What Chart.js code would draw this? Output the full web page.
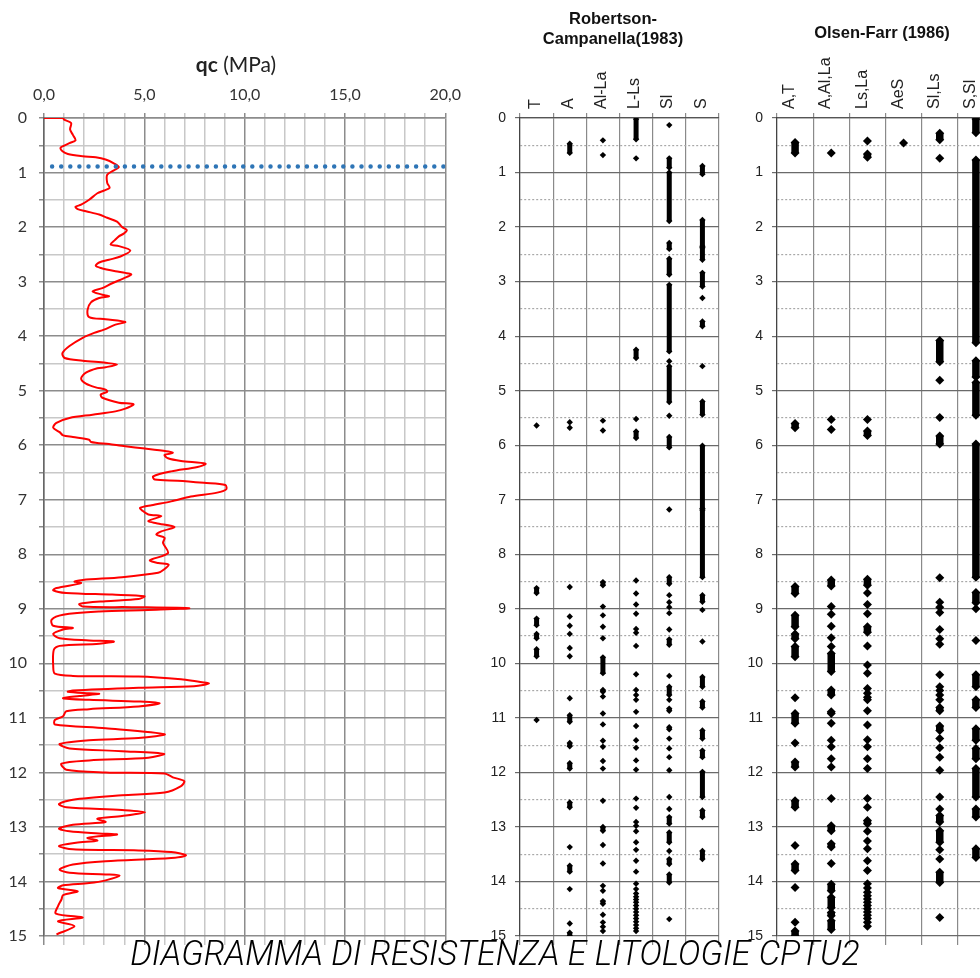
<!DOCTYPE html>
<html>
<head>
<meta charset="utf-8">
<title>CPTU2</title>
<script src="https://cdn.jsdelivr.net/npm/chart.js@4.4.0/dist/chart.umd.min.js"></script>
<style>
    html, body { margin: 0; padding: 0; background: #fff; overflow: hidden; }
    #wrap { position: relative; width: 980px; height: 978px; overflow: hidden; }
    canvas { position: absolute; top: 0; }
    .lbl { position: absolute; color: #111; white-space: nowrap; text-align: center; font-family: 'Liberation Sans', Arial, sans-serif; }
</style>
</head>
<body>
<div id="wrap">
    <canvas id="qcChart" width="470" height="978" style="left:0"></canvas>
    <canvas id="rcChart" width="260" height="978" style="left:470px"></canvas>
    <canvas id="ofChart" width="280" height="978" style="left:730px"></canvas>

    <div class="lbl" style="left:0;width:472px;top:51px;font-size:21px;font-family:Lato,sans-serif;color:#222"><b>qc</b> (MPa)</div>
    <div class="lbl" style="left:513px;width:200px;top:8px;font-size:16.5px;line-height:20px;font-weight:bold">Robertson-<br>Campanella(1983)</div>
    <div class="lbl" style="left:782px;width:200px;top:22px;font-size:16.5px;line-height:20px;font-weight:bold">Olsen-Farr (1986)</div>
    <div class="lbl" style="left:0;width:990px;top:933px;font-size:35px;line-height:42px;font-style:italic;font-weight:300;font-family:Roboto,sans-serif;color:#000;transform:scaleX(0.97);transform-origin:495px 0">DIAGRAMMA DI RESISTENZA E LITOLOGIE CPTU2</div>
</div>

<script>
// CPTU2 - cone resistance and soil type columns

// qc profile (depth in m, qc in MPa)
const qcDepth = [
    0, 0, 0.03, 0.09, 0.21, 0.31, 0.41, 0.46, 0.51, 0.55, 0.61, 0.66, 0.70, 0.72, 0.76, 0.83, 0.90, 0.96,
    1.04, 1.19, 1.28, 1.33, 1.38, 1.50, 1.59, 1.63, 1.67, 1.71, 1.77, 1.83, 1.90, 2.00, 2.06, 2.12, 2.17,
    2.24, 2.32, 2.35, 2.43, 2.54, 2.60, 2.65, 2.71, 2.75, 2.81, 2.84, 2.87, 2.94, 3.03, 3.12, 3.18, 3.24,
    3.27, 3.30, 3.38, 3.52, 3.65, 3.69, 3.74, 3.79, 3.88, 3.94, 4.03, 4.18, 4.31, 4.40, 4.45, 4.49, 4.52,
    4.57, 4.59, 4.67, 4.78, 4.87, 4.94, 4.98, 5.02, 5.07, 5.13, 5.22, 5.25, 5.33, 5.38, 5.44, 5.50, 5.59,
    5.68, 5.76, 5.82, 5.85, 5.90, 5.94, 5.98, 6.02, 6.06, 6.11, 6.14, 6.18, 6.24, 6.29, 6.34, 6.40, 6.48,
    6.57, 6.63, 6.65, 6.69, 6.73, 6.81, 6.87, 6.94, 7.03, 7.10, 7.15, 7.20, 7.27, 7.30, 7.39, 7.43, 7.50,
    7.58, 7.64, 7.70, 7.79, 7.98, 8.11, 8.16, 8.19, 8.28, 8.34, 8.42, 8.47, 8.50, 8.53, 8.62, 8.66, 8.71,
    8.74, 8.77, 8.82, 8.86, 8.91, 8.96, 8.97, 8.99, 9.02, 9.05, 9.11, 9.20, 9.31, 9.35, 9.38, 9.46, 9.54,
    9.58, 9.60, 9.64, 9.68, 9.75, 10.06, 10.19, 10.23, 10.24, 10.29, 10.33, 10.37, 10.42, 10.45, 10.50,
    10.52, 10.55, 10.56, 10.60, 10.64, 10.67, 10.70, 10.73, 10.79, 10.84, 10.88, 10.97, 11.04, 11.12,
    11.19, 11.30, 11.37, 11.41, 11.48, 11.56, 11.61, 11.66, 11.73, 11.78, 11.84, 11.95, 12.00, 12.02,
    12.09, 12.16, 12.25, 12.37, 12.42, 12.50, 12.58, 12.64, 12.69, 12.73, 12.80, 12.85, 12.91, 12.96,
    13.03, 13.08, 13.12, 13.14, 13.20, 13.25, 13.29, 13.35, 13.41, 13.43, 13.46, 13.52, 13.57, 13.63,
    13.69, 13.78, 13.84, 13.87, 13.89, 13.98, 14.03, 14.07, 14.12, 14.18, 14.25, 14.33, 14.45, 14.59,
    14.66, 14.73, 14.82, 14.97
];
const qcValues = [
    0, 0.95, 1.00, 1.35, 1.30, 1.44, 1.57, 1.27, 0.98, 0.82, 0.92, 1.19, 1.93, 2.58, 3.07, 3.48, 3.73, 3.48,
    3.15, 3.15, 3.27, 2.99, 2.66, 2.25, 1.85, 1.57, 1.68, 2.09, 2.75, 3.15, 3.64, 3.89, 4.13, 3.97, 3.73,
    3.53, 3.32, 3.73, 4.30, 3.81, 3.24, 2.75, 2.58, 2.83, 3.56, 4.05, 4.35, 3.97, 3.40, 2.91, 2.42, 2.91,
    3.24, 2.75, 2.34, 2.17, 2.25, 3.07, 4.05, 3.56, 2.99, 2.50, 1.93, 1.27, 0.92, 1.03, 1.93, 3.07, 3.64,
    3.07, 2.66, 2.09, 1.85, 2.09, 2.58, 3.07, 3.15, 2.83, 2.91, 3.73, 4.46, 4.05, 3.56, 2.42, 1.27, 0.62,
    0.46, 0.78, 0.95, 1.44, 2.25, 2.34, 3.24, 4.05, 5.03, 6.10, 6.42, 6.01, 6.18, 6.83, 8.05, 7.65, 6.34,
    5.44, 5.52, 6.67, 7.97, 9.04, 9.08, 8.63, 7.32, 6.34, 5.36, 4.79, 4.90, 5.20, 5.85, 5.20, 5.60, 6.50,
    5.85, 5.60, 6.01, 5.93, 6.18, 5.28, 5.69, 6.21, 5.98, 5.69, 3.89, 1.93, 1.52, 1.85, 0.62, 0.46, 1.11,
    3.40, 5.00, 4.71, 3.07, 1.76, 1.93, 4.38, 7.24, 5.20, 2.75, 0.95, 0.38, 0.46, 1.44, 0.95, 0.46, 0.78,
    2.25, 3.48, 2.75, 0.78, 0.49, 0.46, 0.54, 1.44, 4.71, 6.83, 7.57, 8.22, 7.48, 4.71, 1.44,
    1.19, 2.25, 2.75, 1.76, 0.95, 2.25, 4.71, 5.77, 4.71, 2.25, 1.11, 0.95, 0.54, 0.54,
    3.07, 6.01, 4.71, 2.25, 0.78, 1.27, 3.89, 5.98, 5.20, 2.25, 0.87, 1.11, 3.07, 6.01,
    6.42, 6.99, 6.83, 6.01, 3.89, 1.44, 0.75, 1.11, 3.89, 5.03, 3.89, 2.66, 3.07, 1.44,
    0.75, 1.27, 2.75, 3.64, 2.17, 2.66, 1.60, 0.75, 1.44, 4.71, 6.34, 7.08, 6.34, 3.07,
    1.44, 0.78, 1.27, 3.07, 3.77, 3.07, 2.25, 0.95, 0.70, 1.68, 0.95, 0.87, 0.70, 0.59,
    1.93, 0.70, 1.52, 0.62
];
const waterTableDepth = 0.89; // m
const qcTicks = { min: 0, max: 20, step: 1, labelEvery: 5 };
const depthTicks = { min: 0, max: 15, step: 0.5 };

// Robertson-Campanella (1983): a number is one reading, a pair is a run of readings
const rcLabels = ['T', 'A', 'Al-La', 'L-Ls', 'Sl', 'S'];
const rcT = [5.64, [8.62, 8.71], [9.18, 9.30], [9.46, 9.54], [9.74, 9.87], 11.04];
const rcA = [[0.47, 0.64], 5.58, 5.68, 8.60, 9.14, 9.31, 9.46, 9.72, 9.87, 10.64, [10.95, 11.07],
    [11.46, 11.52], [11.83, 11.93], [12.55, 12.64], 13.37, [13.71, 13.82], 14.14, 14.77, [14.94, 15.0]];
const rcAlLa = [0.41, 0.68, 5.55, 5.73, [8.51, 8.57], 8.96, 9.12, 9.33, 9.54, [9.89, 10.18], [10.49, 10.52],
    10.61, 10.92, 11.12, 11.42, 11.53, 11.79, 11.93, 12.52, [13.0, 13.07], 13.33, 13.67, 14.08, 14.17,
    [14.36, 14.41], 14.61, 14.75, 14.83, 14.91];
const rcLLs = [[0.02, 0.39], 0.74, [4.25, 4.40], 5.52, [5.75, 5.87], 8.48, 8.72, 8.92, 9.09, 9.37, 9.44,
    9.68, 10.20, 10.49, 10.58, 10.67, 10.89, 11.15, 11.41, 11.55, 11.78, 11.95, 12.48, 12.65, 12.91, 12.98,
    13.08, 13.28, 13.42, 13.62, 13.82, 14.04, 14.14, 14.22, 14.28, 14.33, 14.38, 14.44, 14.50, 14.56,
    14.62, 14.68, 14.74, 14.80, 14.86, 14.91];
const rcSl = [0.13, [0.74, 0.91], [1.0, 1.89], [2.29, 2.40], [2.58, 2.87], [3.06, 4.28], 4.46, [4.55, 5.21],
    5.46, [5.85, 6.04], 7.18, [8.42, 8.54], 8.75, 8.88, 8.97, 9.08, 9.38, [9.56, 9.66], 10.23, [10.43, 10.58],
    10.67, [10.83, 10.87], [11.17, 11.21], 11.38, 11.56, 11.72, 11.96, 12.45, 12.67, [12.82, 12.94],
    [13.10, 13.28], 13.44, [13.59, 13.68], [13.87, 14.02], 14.69];
const rcS = [[0.88, 1.03], [1.87, 2.35], [2.38, 2.60], [2.84, 3.09], 3.30, [3.73, 3.82], 4.55, [5.20, 5.44],
    [6.01, 7.16], [7.19, 8.42], [8.75, 8.87], 9.02, 9.60, [10.25, 10.43], [10.70, 10.81], [11.23, 11.38],
    [11.60, 11.72], [11.99, 12.45], [12.70, 12.82], [13.44, 13.59]];

// Olsen-Farr (1986)
const ofLabels = ['A,T', 'A,Al,La', 'Ls,La', 'AeS', 'Sl,Ls', 'S,Sl'];
const ofAT = [[0.45, 0.64], [5.60, 5.68], [8.59, 8.72], [9.12, 9.33], [9.46, 9.55], [9.69, 9.88], 10.63,
    [10.92, 11.10], 11.46, [11.81, 11.90], [12.52, 12.64], 13.34, [13.68, 13.80], 14.11, 14.75, [14.91, 15.0]];
const ofAAlLa = [0.64, 5.53, 5.71, [8.47, 8.58], 8.96, 9.10, 9.32, 9.53, 9.69, [9.82, 10.15], [10.49, 10.58],
    [10.89, 10.92], 11.10, 11.41, 11.53, 11.75, 11.90, 12.48, [12.98, 13.07], [13.31, 13.37], 13.67,
    [14.05, 14.17], [14.29, 14.48], [14.57, 14.63], [14.72, 14.88]];
const ofLsLa = [0.42, [0.66, 0.72], 5.53, [5.74, 5.82], [8.46, 8.57], 8.71, 8.92, 9.09, [9.33, 9.43], 9.68,
    10.03, 10.18, 10.46, 10.55, 10.62, 10.67, 10.87, 11.13, 11.40, 11.53, 11.75, 11.93, 12.48, 12.64,
    [12.88, 12.94], 13.08, 13.26, 13.40, 13.62, 13.80, 14.04, 14.12, 14.20, 14.26, 14.32, 14.38, 14.44,
    14.50, 14.56, 14.62, 14.68, 14.75, 14.82];
const ofAeS = [0.46];
const ofSlLs = [[0.28, 0.40], 0.74, [4.08, 4.47], 4.81, 5.49, [5.83, 5.98], 8.43, 8.88, 8.97, 9.07, 9.38,
    9.55, 9.65, 10.21, 10.43, 10.50, 10.58, 10.67, [10.81, 10.87], [11.15, 11.23], 11.38, 11.55, 11.72,
    11.96, 12.45, 12.67, [12.79, 12.91], [13.07, 13.28], 13.42, 13.59, [13.83, 14.02], 14.66];
const ofSSl = [[0.02, 0.27], [0.77, 4.12], [4.45, 4.75], [4.85, 5.45], [5.98, 8.42], [8.70, 8.89], 9.00,
    9.58, [10.21, 10.43], [10.67, 10.81], [11.20, 11.41], [11.56, 11.75], [11.93, 12.45], [12.67, 12.82],
    [13.40, 13.56]];

const isInt = v => Math.abs(v - Math.round(v)) < 1e-6;

// depth axis shared by the three panels
function depthAxis(opts) {
    return {
        type: 'linear',
        reverse: true,
        min: depthTicks.min,
        max: depthTicks.max,
        ticks: {
            stepSize: depthTicks.step,
            autoSkip: false,
            padding: opts.padding,
            color: opts.labelColor,
            font: opts.font,
            callback: v => isInt(v) ? String(Math.round(v)) : ''
        },
        grid: {
            color: c => c.tick && !isInt(c.tick.value) ? opts.minor : opts.major,
            tickColor: c => c.tick && !isInt(c.tick.value) ? opts.minorTick : opts.major,
            lineWidth: opts.lineWidth,
            tickLength: 5
        },
        border: {
            color: opts.axisColor,
            width: opts.lineWidth,
            dash: c => c.tick && !isInt(c.tick.value) ? opts.minorDash : []
        },
        afterFit: s => { s.width = opts.width; }
    };
}

function createQcChart() {
    const ctx = document.getElementById('qcChart');
    const gridColor = c => c.tick && c.tick.value % qcTicks.labelEvery === 0 ? '#8c8c8c' : '#c8c8c8';

    new Chart(ctx, {
        type: 'scatter',
        data: {
            datasets: [{
                label: 'falda',
                data: [{ x: qcTicks.min, y: waterTableDepth }, { x: qcTicks.max, y: waterTableDepth }],
                showLine: true,
                borderColor: '#2e75b6',
                borderWidth: 4.5,
                borderDash: [0, 9.1],
                borderDashOffset: 1,
                borderCapStyle: 'round',
                pointRadius: 0
            }, {
                label: 'qc',
                data: qcValues.map((q, i) => ({ x: q, y: qcDepth[i] })),
                showLine: true,
                borderColor: '#ff0000',
                borderWidth: 2,
                tension: 0.3,
                pointRadius: 0
            }]
        },
        options: {
            responsive: false,
            animation: false,
            layout: { padding: { right: 20 } },
            plugins: { legend: { display: false }, tooltip: { enabled: false } },
            scales: {
                x: {
                    type: 'linear',
                    position: 'top',
                    min: qcTicks.min,
                    max: qcTicks.max,
                    ticks: {
                        stepSize: qcTicks.step,
                        autoSkip: false,
                        maxRotation: 0,
                        padding: 9,
                        color: '#333',
                        font: { family: 'Lato', size: 16 },
                        callback: v => v % qcTicks.labelEvery === 0 ? v.toFixed(1).replace('.', ',') : ''
                    },
                    grid: { color: gridColor, lineWidth: 1.5, tickLength: 5 },
                    border: { color: '#8c8c8c', width: 1.5 },
                    afterFit: s => { s.height = 118; }
                },
                x2: {
                    type: 'linear',
                    position: 'bottom',
                    min: qcTicks.min,
                    max: qcTicks.max,
                    ticks: { stepSize: qcTicks.step, display: false },
                    grid: { color: gridColor, lineWidth: 1.5, drawOnChartArea: false, tickLength: 9 },
                    border: { display: false },
                    afterFit: s => { s.height = 42; }
                },
                y: depthAxis({
                    width: 44, padding: 12, labelColor: '#333',
                    font: { family: 'Lato', size: 16 },
                    major: '#8c8c8c', minor: '#c8c8c8', minorTick: '#8c8c8c', minorDash: [],
                    axisColor: '#666', lineWidth: 1.5
                })
            }
        }
    });
}

// build diamonds (one per reading / run end) and thick bars for runs
function lithoDatasets(columns, radius, barWidth) {
    const points = [];
    const runs = [];
    columns.forEach((picks, i) => {
        const x = i + 0.5;
        picks.forEach(p => {
            const [top, bottom] = Array.isArray(p) ? p : [p, p];
            points.push({ x, y: top });
            if (bottom !== top) {
                points.push({ x, y: bottom });
                runs.push({ x, y: top }, { x, y: bottom }, { x, y: null });
            }
        });
    });
    return [{
        data: points,
        pointStyle: 'rectRot',
        pointRadius: radius,
        pointBackgroundColor: '#000',
        pointBorderWidth: 0
    }, {
        data: runs,
        showLine: true,
        spanGaps: false,
        borderColor: '#000',
        borderWidth: barWidth,
        borderCapStyle: 'butt',
        pointRadius: 0
    }];
}

function createLithoChart(id, labels, columns, o) {
    const ctx = document.getElementById(id);
    const colGrid = c => c.tick && isInt(c.tick.value) ? '#8a8a8a' : 'rgba(0,0,0,0)';

    new Chart(ctx, {
        type: 'scatter',
        data: { datasets: lithoDatasets(columns, o.radius, o.barWidth) },
        options: {
            responsive: false,
            animation: false,
            layout: { padding: { right: o.padRight } },
            plugins: { legend: { display: false }, tooltip: { enabled: false } },
            scales: {
                x: {
                    type: 'linear',
                    position: 'top',
                    min: 0,
                    max: labels.length,
                    afterBuildTicks: s => {
                        s.ticks = [];
                        for (let v = 0; v <= labels.length; v += 0.5) s.ticks.push({ value: v });
                    },
                    ticks: {
                        autoSkip: false,
                        minRotation: 90,
                        maxRotation: 90,
                        padding: 4,
                        labelOffset: o.labelOffset,
                        color: '#222',
                        font: { family: 'Liberation Sans', size: 16 },
                        callback: v => isInt(v) ? '' : labels[Math.floor(v)]
                    },
                    grid: { color: colGrid, lineWidth: 1.2, tickLength: 5 },
                    border: { color: '#555', width: 1.2 },
                    afterFit: s => { s.height = 118; }
                },
                x2: {
                    type: 'linear',
                    position: 'bottom',
                    min: 0,
                    max: labels.length,
                    ticks: { stepSize: 1, display: false },
                    grid: { color: '#8a8a8a', lineWidth: 1.2, drawOnChartArea: false, tickLength: 9 },
                    border: { display: false },
                    afterFit: s => { s.height = 42; }
                },
                y: depthAxis({
                    width: o.axisWidth, padding: 9, labelColor: '#222',
                    font: { family: 'Liberation Sans', size: 14 },
                    major: '#6a6a6a', minor: '#a8a8a8', minorTick: 'rgba(0,0,0,0)', minorDash: [2, 2],
                    axisColor: '#444', lineWidth: 1.2
                })
            }
        }
    });
}

document.addEventListener('DOMContentLoaded', () => {
    createQcChart();
    createLithoChart('rcChart', rcLabels, [rcT, rcA, rcAlLa, rcLLs, rcSl, rcS],
        { radius: 3.2, barWidth: 5, axisWidth: 50, padRight: 11, labelOffset: 18 });
    createLithoChart('ofChart', ofLabels, [ofAT, ofAAlLa, ofLsLa, ofAeS, ofSlLs, ofSSl],
        { radius: 4.5, barWidth: 7.5, axisWidth: 47, padRight: 16, labelOffset: 14 });
});
</script>
</body>
</html>
